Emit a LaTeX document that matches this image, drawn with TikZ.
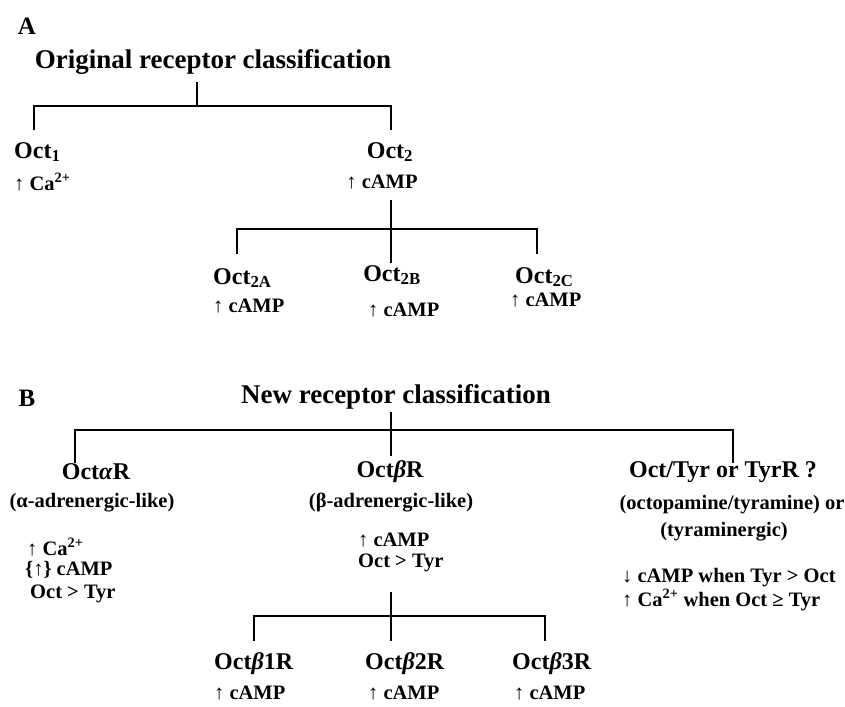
\documentclass[tikz,border=0pt]{standalone}
\usepackage{fontspec}
\setmainfont{Liberation Serif}
\begin{document}
\begin{tikzpicture}[x=1pt,y=-1pt,
  lab/.style={font=\bfseries\fontsize{25}{27}\selectfont, inner sep=0pt},
  ttl/.style={font=\bfseries\fontsize{27}{30}\selectfont, inner sep=0pt},
  big/.style={font=\bfseries\fontsize{24}{26}\selectfont, inner sep=0pt},
  sml/.style={font=\bfseries\fontsize{20.5}{22}\selectfont, inner sep=0pt},
  conn/.style={line width=2.2pt, line cap=rect}]
\useasboundingbox (0,0) rectangle (845,706);
% ---------- A ----------
\node[lab] (A) at (27,26) {A};
\node[ttl] (tA) at (213,62) {Original receptor classification};
\coordinate (a0) at (197,83);
\coordinate (a1) at (197,106);
\coordinate (aL) at (34,106);
\coordinate (aR) at (391,106);
\coordinate (aL2) at (34,129);
\coordinate (aR2) at (391,129);
\draw[conn] (a0) -- (a1);
\draw[conn] (aL2) -- (aL) -- (aR) -- (aR2);
\node[big,anchor=west] (o1) at (14,152) {Oct\textsubscript{1}};
\node[sml,anchor=west] (o1c) at (14,182) {↑ Ca\textsuperscript{2+}};
\node[big] (o2) at (390,152) {Oct\textsubscript{2}};
\node[sml] (o2c) at (382,182) {↑ cAMP};
\coordinate (b0) at (391,201);
\coordinate (b1) at (391,262);
\coordinate (bm) at (391,229);
\coordinate (bL) at (237,229);
\coordinate (bR) at (537,229);
\coordinate (bL2) at (237,253);
\coordinate (bR2) at (537,253);
\draw[conn] (b0) -- (b1);
\draw[conn] (bL2) -- (bL) -- (bR) -- (bR2);
\node[big,anchor=west] (o2a) at (213,278) {Oct\textsubscript{2A}};
\node[sml,anchor=west] (o2ac) at (213,306) {↑ cAMP};
\node[big] (o2b) at (392,275) {Oct\textsubscript{2B}};
\node[sml,anchor=west] (o2bc) at (368,310) {↑ cAMP};
\node[big,anchor=west] (o2cn) at (515,277) {Oct\textsubscript{2C}};
\node[sml,anchor=west] (o2cc) at (510,300) {↑ cAMP};
% ---------- B ----------
\node[lab] (B) at (27,398) {B};
\node[ttl] (tB) at (396,397) {New receptor classification};
\coordinate (c0) at (391,413);
\coordinate (c1) at (391,455);
\coordinate (cL) at (75,430);
\coordinate (cR) at (733,430);
\coordinate (cL2) at (75,462);
\coordinate (cR2) at (733,462);
\draw[conn] (c0) -- (c1);
\draw[conn] (cL2) -- (cL) -- (cR) -- (cR2);
% alpha
\node[big] (oa) at (96,472) {Oct\textit{α}R};
\node[sml] (oa1) at (92,503) {(α-adrenergic-like)};
\node[sml,anchor=west] (oa2) at (27,547) {↑ Ca\textsuperscript{2+}};
\node[sml,anchor=west] (oa3) at (25,570) {\{↑\} cAMP};
\node[sml,anchor=west] (oa4) at (30,594) {Oct > Tyr};
% beta
\node[big] (ob) at (390,472) {Oct\textit{β}R};
\node[sml] (ob1) at (391,503) {(β-adrenergic-like)};
\node[sml,anchor=west] (ob2) at (358,540) {↑ cAMP};
\node[sml,anchor=west] (ob3) at (358,563) {Oct > Tyr};
\coordinate (d0) at (391,593);
\coordinate (d1) at (391,640);
\coordinate (dL) at (254,616);
\coordinate (dR) at (545,616);
\coordinate (dL2) at (254,640);
\coordinate (dR2) at (545,640);
\draw[conn] (d0) -- (d1);
\draw[conn] (dL2) -- (dL) -- (dR) -- (dR2);
\node[big,anchor=west] (b1n) at (214,664) {Oct\textit{β}1R};
\node[sml,anchor=west] (b1c) at (214,693) {↑ cAMP};
\node[big,anchor=west] (b2n) at (365,664) {Oct\textit{β}2R};
\node[sml,anchor=west] (b2c) at (368,693) {↑ cAMP};
\node[big,anchor=west] (b3n) at (512,664) {Oct\textit{β}3R};
\node[sml,anchor=west] (b3c) at (514,693) {↑ cAMP};
% tyr
\node[big] (ot) at (723,472) {Oct/Tyr or TyrR ?};
\node[sml] (ot1) at (732,505) {(octopamine/tyramine) or};
\node[sml] (ot2) at (724,532) {(tyraminergic)};
\node[sml,anchor=west] (ot3) at (622,578) {↓ cAMP when Tyr > Oct};
\node[sml,anchor=west] (ot4) at (622,600) {↑ Ca\textsuperscript{2+} when Oct ≥ Tyr};
\end{tikzpicture}
\end{document}
